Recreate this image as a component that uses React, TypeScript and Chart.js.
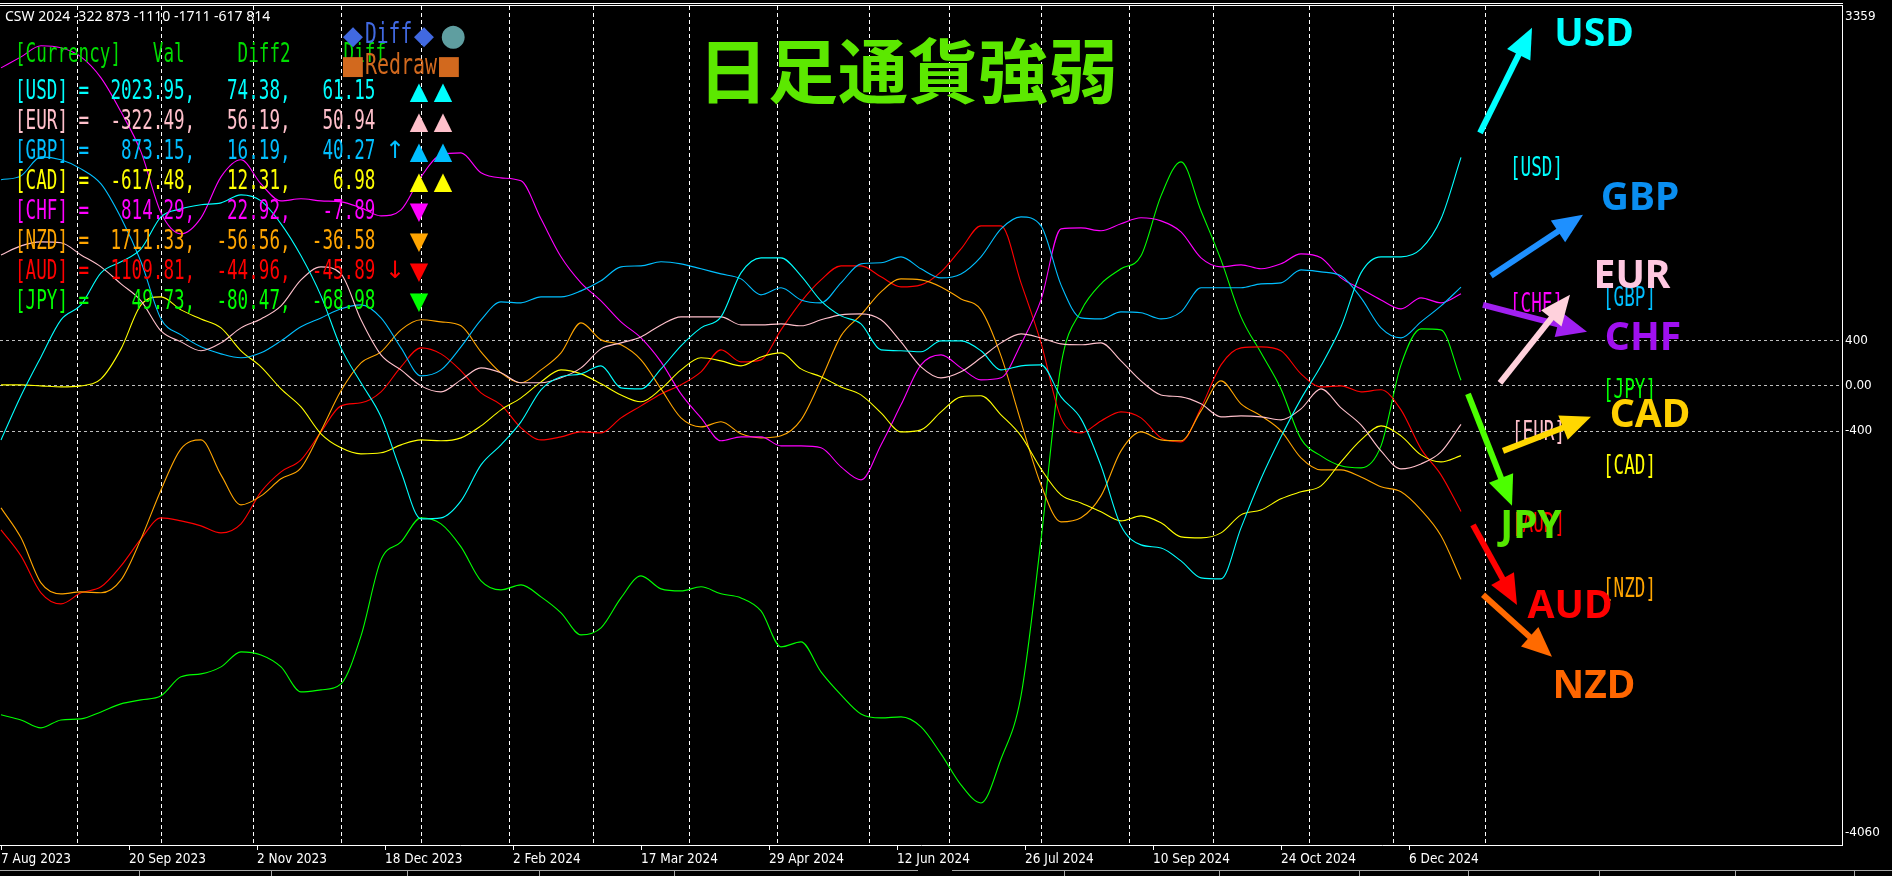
import React, { useEffect, useRef } from 'react';
import { Chart, registerables } from 'chart.js';

Chart.register(...registerables);

// ---- x positions (daily bar index, 7 Aug 2023 = bar 0) ----
const barIndex = [0,5,10,15,20,25,30,35,40,45,50,55,60,65,70,75,80,85,90,95,100,105,110,115,120,125,130,135,140,145,150,155,160,165,170,175,180,185,190,195,200,205,210,215,220,225,230,235,240,245,250,255,260,265,270,275,280,285,290,295,300,305,310,315,320,325,330,335,340,345,350,355,360,365];

// ---- currency strength series ----
const usdValues = [-478,-88,256,584,716,999,1097,1211,1494,1565,1601,1618,1689,1636,1433,1150,796,336,27,-274,-760,-1176,-1167,-1017,-699,-522,-318,-35,80,106,177,-18,-27,150,354,513,610,999,1132,1132,973,752,619,548,318,310,301,398,398,310,141,177,186,-97,-292,-707,-1238,-1406,-1433,-1548,-1698,-1707,-1256,-822,-451,-115,177,522,999,1141,1141,1211,1477,2020];
const eurValues = [1158,1238,1273,1265,1158,1052,902,752,486,389,310,380,513,592,707,937,1052,990,584,274,141,0,-53,53,159,115,27,27,71,159,327,380,433,539,610,610,610,539,539,548,531,584,628,637,584,389,168,71,124,248,380,460,424,371,363,380,221,44,-80,-97,-159,-274,-265,-274,-301,-203,-27,-195,-345,-575,-734,-690,-584,-340];
const gbpValues = [1822,1857,2025,1999,1919,1786,1486,1097,592,451,345,283,248,292,398,522,601,681,716,601,336,88,141,345,584,743,734,787,787,840,929,1052,1061,1097,1079,1035,990,946,805,867,760,734,911,1079,1088,1141,1035,955,990,1141,1388,1494,1415,893,601,592,654,646,592,654,867,867,867,902,911,1026,1008,973,778,513,424,566,707,873];
const cadValues = [9,9,0,-9,0,62,327,716,787,672,592,513,310,168,-27,-186,-424,-548,-601,-592,-522,-478,-486,-460,-354,-212,-106,35,141,106,18,-80,-141,-27,141,248,221,177,256,292,150,80,-9,-80,-239,-407,-389,-230,-97,-88,-256,-442,-734,-964,-1035,-1114,-1194,-1150,-1211,-1335,-1344,-1300,-1141,-1097,-999,-937,-884,-672,-478,-354,-442,-610,-672,-617];
const chfValues = [2812,2909,3007,2989,2909,2724,2423,2069,1530,1344,1486,1848,1999,1786,1636,1654,1636,1627,1574,1503,1556,1848,2043,2060,1884,1839,1813,1477,1141,911,752,566,424,212,-71,-283,-486,-451,-451,-531,-531,-548,-716,-831,-522,-168,186,274,159,53,71,371,760,1388,1397,1371,1433,1486,1459,1362,1132,1052,1070,1035,1079,1167,1132,955,858,760,681,778,734,814];
const nzdValues = [-1079,-1344,-1742,-1839,-1822,-1830,-1716,-1353,-920,-557,-478,-787,-1052,-973,-822,-725,-398,-44,203,301,495,584,566,531,301,115,27,141,292,557,407,363,230,-27,-283,-363,-318,-424,-460,-442,-301,53,442,628,831,946,937,875,769,672,265,-318,-875,-1203,-1167,-973,-575,-407,-478,-486,-221,44,-159,-265,-398,-637,-743,-743,-805,-893,-937,-1097,-1326,-1711];
const audValues = [-1273,-1503,-1830,-1928,-1830,-1777,-1592,-1353,-1167,-1194,-1238,-1300,-1220,-937,-760,-654,-407,-177,-150,-53,168,336,283,133,-62,-168,-371,-478,-451,-407,-416,-283,-177,-71,9,124,318,212,230,495,743,937,1061,1061,964,875,893,1008,1211,1415,1415,911,380,-283,-416,-310,-230,-283,-460,-495,-195,186,336,345,310,106,-9,0,-53,-35,-212,-557,-787,-1110];
const jpyValues = [-2909,-2954,-3024,-2954,-2945,-2883,-2812,-2777,-2741,-2573,-2547,-2485,-2352,-2379,-2485,-2706,-2688,-2635,-2211,-1539,-1380,-1167,-1220,-1424,-1724,-1804,-1760,-1866,-2007,-2202,-2140,-1875,-1680,-1795,-1813,-1777,-1839,-1875,-1990,-2308,-2264,-2529,-2732,-2901,-2936,-2927,-3015,-3254,-3528,-3688,-3300,-2741,-1362,186,663,902,1035,1150,1680,1981,1548,1114,610,292,-27,-469,-619,-707,-725,-531,186,504,495,50];

// ---- axes ----
const dateTickBars = [0,32,64,96,128,160,192,224,256,288,320,352];
const dateTickLabels = ['7 Aug 2023','20 Sep 2023','2 Nov 2023','18 Dec 2023','2 Feb 2024','17 Mar 2024','29 Apr 2024','12 Jun 2024','26 Jul 2024','10 Sep 2024','24 Oct 2024','6 Dec 2024'];
const monthStartBars = [19,40,63,85,105,127,148,172,194,217,237,260,282,303,327,348,371];
const valueTicks = [-4060,-400,0,400,3359];
const valueGridLines = [-400,0,400];
const Y_MIN = -4060;
const Y_MAX = 3359;
const X_MIN = -0.25;
const X_MAX = 460.25;

// ---- legend panel ----
const currencies = ['USD','EUR','GBP','CAD','CHF','NZD','AUD','JPY'];
const currencyColors: Record<string, string> = {
  USD: '#00FFFF', EUR: '#FFC0CB', GBP: '#00BFFF', CAD: '#FFFF00',
  CHF: '#FF00FF', NZD: '#FFA500', AUD: '#FF0000', JPY: '#00FF00',
};
const legendVal = ['2023.95','-322.49','873.15','-617.48','814.29','1711.33','1109.81','49.73'];
const legendDiff2 = ['74.38','56.19','16.19','12.31','22.92','-56.56','-44.96','-80.47'];
const legendDiff = ['61.15','50.94','40.27','6.98','-7.89','-36.58','-45.89','-68.98'];
const legendArrow = ['','','↑','','','','↓',''];
const legendTri = ['▲▲','▲▲','▲▲','▲▲','▼','▼','▼','▼'];
const headerText = 'CSW 2024 -322 873 -1110 -1711 -617 814';
const titleText = '日足通貨強弱';

// ---- arrows & labels on the right (data coordinates) ----
const arrowCurrencies = ['USD','GBP','CHF','EUR','CAD','JPY','AUD','NZD'];
const arrowFromBar = [369.75,372.5,370.5,374.75,375.5,366.75,368,370.5];
const arrowFromValue = [2237,973,716,27,-575,-71,-1229,-1848];
const arrowToBar = [382.75,395.5,396.5,392.25,397.5,377.75,379,387.75];
const arrowToValue = [3166,1512,478,805,-274,-1061,-1937,-2396];
const arrowColors = ['#00FFFF','#1E90FF','#A020F0','#FFD1DC','#FFD700','#4CFF00','#FF0000','#FF6A00'];
const bigLabelBar = [398.25,409.75,410.5,407.75,412.25,382.5,392.25,398.25];
const bigLabelValue = [3122,1671,433,982,-248,-1229,-1937,-2644];
const bigLabelColors = ['#00FFFF','#0A8EF0','#A010F0','#FFC8E1','#FFD000','#55E800','#FF0000','#FF6600'];
const tagCurrencies = ['USD','GBP','CHF','JPY','EUR','CAD','AUD','NZD'];
const tagBar = [377.25,400.5,377.25,400.5,377.75,400.5,377.75,400.5];
const tagValue = [1919,769,716,-44,-416,-716,-1229,-1804];

const seriesList = [
  { label: 'USD', values: usdValues },
  { label: 'EUR', values: eurValues },
  { label: 'GBP', values: gbpValues },
  { label: 'CAD', values: cadValues },
  { label: 'CHF', values: chfValues },
  { label: 'NZD', values: nzdValues },
  { label: 'AUD', values: audValues },
  { label: 'JPY', values: jpyValues },
];

const MONO_W = 10.6;
const MONO_SIZE = 26;
const LEGEND_X = 15;

function monoText(ctx: CanvasRenderingContext2D, text: string, x: number, y: number, color: string, charW = MONO_W, size = MONO_SIZE) {
  ctx.save();
  ctx.font = `${size}px 'DejaVu Sans Mono', monospace`;
  const adv = ctx.measureText('M').width || size * 0.6;
  ctx.translate(x, y);
  ctx.scale(charW / adv, 1);
  ctx.fillStyle = color;
  ctx.textBaseline = 'middle';
  ctx.textAlign = 'left';
  ctx.fillText(text, 0, 0);
  ctx.restore();
}

function symText(ctx: CanvasRenderingContext2D, ch: string, cx: number, cy: number, color: string, size: number) {
  ctx.save();
  ctx.font = `${size}px 'DejaVu Sans'`;
  ctx.fillStyle = color;
  ctx.textAlign = 'center';
  ctx.textBaseline = 'middle';
  ctx.fillText(ch, cx, cy);
  ctx.restore();
}

function drawArrow(ctx: CanvasRenderingContext2D, x1: number, y1: number, x2: number, y2: number, color: string) {
  const ang = Math.atan2(y2 - y1, x2 - x1);
  const headLen = 30, headW = 13, shaftW = 6;
  const bx = x2 - headLen * Math.cos(ang);
  const by = y2 - headLen * Math.sin(ang);
  ctx.save();
  ctx.strokeStyle = color;
  ctx.lineWidth = shaftW;
  ctx.lineCap = 'butt';
  ctx.beginPath();
  ctx.moveTo(x1, y1);
  ctx.lineTo(bx + 2 * Math.cos(ang), by + 2 * Math.sin(ang));
  ctx.stroke();
  ctx.fillStyle = color;
  ctx.beginPath();
  ctx.moveTo(x2, y2);
  ctx.lineTo(bx + headW * Math.sin(ang), by - headW * Math.cos(ang));
  ctx.lineTo(bx - headW * Math.sin(ang), by + headW * Math.cos(ang));
  ctx.closePath();
  ctx.fill();
  ctx.restore();
}

const overlayPlugin = {
  id: 'mt4Overlay',
  beforeDraw(chart: any) {
    const { ctx, width, height } = chart;
    ctx.save();
    ctx.fillStyle = '#000000';
    ctx.fillRect(0, 0, width, height);
    ctx.restore();
  },
  afterDatasetsDraw(chart: any) {
    const ctx: CanvasRenderingContext2D = chart.ctx;
    const xs = chart.scales.x;
    const ys = chart.scales.y;
    const px = (b: number) => xs.getPixelForValue(b);
    const py = (v: number) => ys.getPixelForValue(v);

    // small bracket tags
    tagCurrencies.forEach((c, i) => {
      monoText(ctx, `[${c}]`, px(tagBar[i]), py(tagValue[i]), currencyColors[c]);
    });
    // arrows
    arrowCurrencies.forEach((c, i) => {
      drawArrow(ctx, px(arrowFromBar[i]), py(arrowFromValue[i]), px(arrowToBar[i]), py(arrowToValue[i]), arrowColors[i]);
    });
    // big labels
    ctx.save();
    ctx.font = "bold 39px 'Noto Sans'";
    ctx.textAlign = 'center';
    ctx.textBaseline = 'middle';
    arrowCurrencies.forEach((c, i) => {
      ctx.fillStyle = bigLabelColors[i];
      ctx.fillText(c, px(bigLabelBar[i]), py(bigLabelValue[i]) + 2);
    });
    ctx.restore();

    // title
    ctx.save();
    ctx.font = "bold 70px 'Noto Sans CJK JP'";
    ctx.fillStyle = '#5CE800';
    ctx.textAlign = 'center';
    ctx.textBaseline = 'middle';
    ctx.fillText(titleText, 908, 71);
    ctx.restore();

    // header
    ctx.save();
    ctx.font = "14px 'Noto Sans'";
    ctx.fillStyle = '#FFFFFF';
    ctx.textBaseline = 'middle';
    ctx.fillText(headerText, 5, 17);
    ctx.restore();

    // legend header row
    const green = '#00DD00';
    const colX = (c: number) => LEGEND_X + c * MONO_W;
    monoText(ctx, '[Currency]', colX(0), 55, green);
    monoText(ctx, 'Val', colX(13), 55, green);
    monoText(ctx, 'Diff2', colX(21), 55, green);
    monoText(ctx, 'Diff', colX(31), 55, green);

    // buttons
    symText(ctx, '◆', 353, 37, '#4169E1', 26);
    monoText(ctx, 'Diff', 365, 36, '#4169E1', 11.8, 28);
    symText(ctx, '◆', 424, 37, '#4169E1', 26);
    symText(ctx, '●', 453, 37, '#5F9EA0', 30);
    symText(ctx, '■', 353, 67, '#D2691E', 26);
    monoText(ctx, 'Redraw', 365, 67, '#D2691E', 12, 28);
    symText(ctx, '■', 449, 67, '#D2691E', 26);

    // legend rows
    currencies.forEach((c, i) => {
      const y = 92 + i * 30;
      const col = currencyColors[c];
      const row = `[${c}] = ${legendVal[i].padStart(8)},${legendDiff2[i].padStart(8)},${legendDiff[i].padStart(8)}`;
      monoText(ctx, row, LEGEND_X, y, col);
      if (legendArrow[i]) symText(ctx, legendArrow[i], 395, y, col, 24);
      const tris = legendTri[i];
      for (let k = 0; k < tris.length; k++) {
        symText(ctx, tris[k], 419 + k * 24, y + 1, col, 24);
      }
    });
  },
  afterDraw(chart: any) {
    const ctx: CanvasRenderingContext2D = chart.ctx;
    const ys = chart.scales.y;
    const area = chart.chartArea;
    ctx.save();
    // window frame lines at top
    ctx.fillStyle = '#FFFFFF';
    ctx.fillRect(0, 3, area.right + 1, 1);
    ctx.fillRect(0, 5, area.right + 1, 1);
    // extreme value labels of the price scale
    ctx.font = "12px 'DejaVu Sans'";
    ctx.textAlign = 'left';
    ctx.textBaseline = 'middle';
    ctx.fillText(String(Y_MAX), area.right + 3, ys.getPixelForValue(Y_MAX) + 11);
    ctx.fillText(String(Y_MIN), area.right + 3, ys.getPixelForValue(Y_MIN) - 12);
    // bottom tab strip
    ctx.fillStyle = '#A8A8A8';
    ctx.fillRect(0, 870, 918, 1);
    ctx.fillRect(952, 870, 940, 1);
    [139, 271, 407, 539, 674, 1064, 1219, 1359, 1468, 1599, 1735, 1854].forEach((x) => ctx.fillRect(x, 871, 1, 5));
    ctx.restore();
  },
};

export default function App() {
  const canvasRef = useRef<HTMLCanvasElement | null>(null);

  useEffect(() => {
    document.body.style.margin = '0';
    document.body.style.background = '#000';
    const canvas = canvasRef.current;
    if (!canvas) return;
    const chart = new Chart(canvas, {
      type: 'line',
      data: {
        datasets: seriesList.map((s) => ({
          label: s.label,
          data: barIndex.map((b, i) => ({ x: b, y: s.values[i] })),
          borderColor: currencyColors[s.label],
          backgroundColor: currencyColors[s.label],
          borderWidth: 1.1,
          pointRadius: 0,
          fill: false,
          cubicInterpolationMode: 'monotone' as const,
        })),
      },
      options: {
        animation: false,
        responsive: false,
        maintainAspectRatio: false,
        devicePixelRatio: 1,
        events: [],
        layout: { padding: { top: 6, left: 0, right: 0, bottom: 0 } },
        plugins: { legend: { display: false }, tooltip: { enabled: false }, title: { display: false } },
        scales: {
          x: {
            type: 'linear',
            position: 'bottom',
            min: X_MIN,
            max: X_MAX,
            afterBuildTicks: (s: any) => { s.ticks = dateTickBars.map((v) => ({ value: v })); },
            afterFit: (s: any) => { s.height = 31; s.paddingLeft = 0; s.paddingRight = 0; },
            grid: { drawOnChartArea: false, drawTicks: true, tickLength: 5, tickColor: '#FFFFFF', tickWidth: 1, color: '#FFFFFF' },
            border: { display: true, color: '#FFFFFF', width: 1 },
            ticks: {
              color: '#FFFFFF',
              align: 'start',
              padding: 1,
              maxRotation: 0,
              minRotation: 0,
              autoSkip: false,
              font: { family: "'DejaVu Sans Condensed', 'DejaVu Sans'", size: 13.5 },
              callback: (_v: any, i: number) => dateTickLabels[i],
            },
          },
          xMonth: {
            type: 'linear',
            position: 'bottom',
            min: X_MIN,
            max: X_MAX,
            afterBuildTicks: (s: any) => { s.ticks = monthStartBars.map((v) => ({ value: v })); },
            afterFit: (s: any) => { s.height = 0; s.paddingLeft = 0; s.paddingRight = 0; },
            grid: { color: '#FFFFFF', lineWidth: 1, drawTicks: false, drawOnChartArea: true },
            border: { display: false, dash: [4, 3] },
            ticks: { display: false },
          },
          y: {
            type: 'linear',
            position: 'right',
            min: Y_MIN,
            max: Y_MAX,
            afterBuildTicks: (s: any) => { s.ticks = valueTicks.map((v) => ({ value: v })); },
            afterFit: (s: any) => { s.width = 50; s.paddingTop = 0; s.paddingBottom = 0; },
            grid: {
              color: (c: any) => (c.tick && valueGridLines.includes(c.tick.value) ? '#BEBEBE' : 'rgba(0,0,0,0)'),
              lineWidth: 1,
              drawTicks: false,
            },
            border: { display: true, color: '#FFFFFF', width: 1, dash: [3, 3] },
            ticks: {
              color: '#FFFFFF',
              padding: 3,
              font: { family: "'DejaVu Sans'", size: 12 },
              callback: (v: any) => (v === 0 ? '0.00' : v === Y_MIN || v === Y_MAX ? '' : String(v)),
            },
          },
        },
      } as any,
      plugins: [overlayPlugin],
    });
    return () => chart.destroy();
  }, []);

  return (
    <div style={{ position: 'fixed', left: 0, top: 0, width: 1892, height: 876, background: '#000' }}>
      <canvas ref={canvasRef} width={1892} height={876} style={{ width: 1892, height: 876, display: 'block' }} />
    </div>
  );
}
